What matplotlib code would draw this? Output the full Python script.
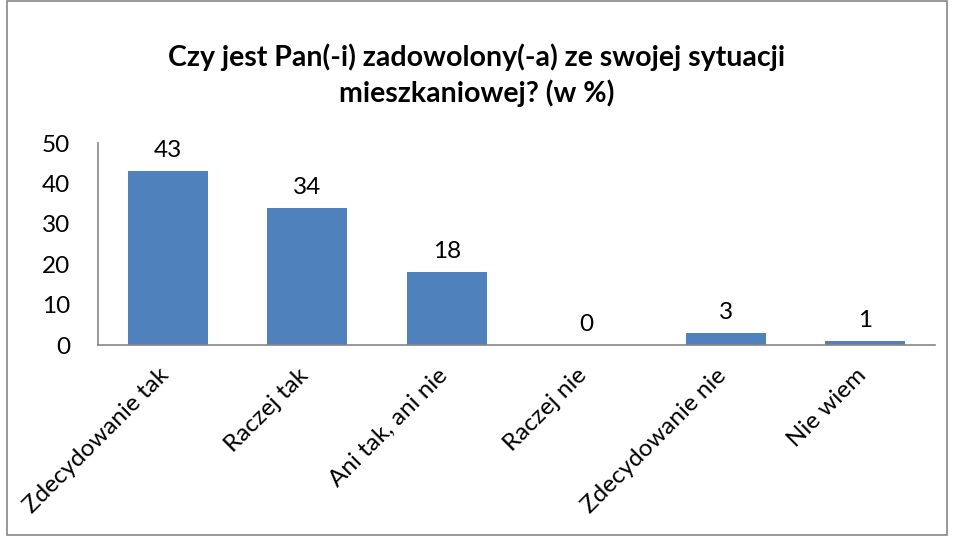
import matplotlib.pyplot as plt
import matplotlib.transforms as mtransforms
from matplotlib.patches import Rectangle

# data
categories = ["Zdecydowanie tak", "Raczej tak", "Ani tak, ani nie",
              "Raczej nie", "Zdecydowanie nie", "Nie wiem"]
values = [43, 34, 18, 0, 3, 1]
y_ticks = [0, 10, 20, 30, 40, 50]
title = "Czy jest Pan(-i) zadowolony(-a) ze swojej sytuacji\nmieszkaniowej? (w %)"

plt.rcParams['font.family'] = ['Lato', 'DejaVu Sans']

fig = plt.figure(figsize=(9.54, 5.36), dpi=100)
ax = fig.add_axes([98 / 954, 1 - 345 / 536, (935 - 98) / 954, (345 - 143) / 536])

x = list(range(len(categories)))
ax.bar(x, values, width=0.57, color="#4F81BD")
for xi, v in zip(x, values):
    ax.text(xi, v + 2.5, str(v), ha="center", va="bottom", fontsize=17.5)

ax.set_xlim(-0.5, len(categories) - 0.5)
ax.set_ylim(0, 50)
ax.set_yticks(y_ticks)
ax.tick_params(axis="y", labelsize=17.5, length=0, pad=20)
ax.set_xticks(x)
ax.set_xticklabels(categories, rotation=45, ha="right", va="top",
                   rotation_mode="anchor", fontsize=17.5)
ax.tick_params(axis="x", length=0, pad=14)
shift = mtransforms.ScaledTranslation(-10 / 100, 0, fig.dpi_scale_trans)
for lbl in ax.get_xticklabels():
    lbl.set_transform(lbl.get_transform() + shift)

for s in ["top", "right"]:
    ax.spines[s].set_visible(False)
for s in ["left", "bottom"]:
    ax.spines[s].set_color("#868686")
    ax.spines[s].set_linewidth(1.2)

fig.text(0.5, 1 - 75 / 536, title, ha="center", va="center",
         fontsize=20.5, fontweight="bold", linespacing=1.35)

# outer chart border
fig.patches.append(Rectangle((7 / 954, 1 / 536), 940 / 954, 534 / 536,
                             transform=fig.transFigure, fill=False,
                             edgecolor="#868686", linewidth=1.2))

fig.savefig("out.png", dpi=100)
